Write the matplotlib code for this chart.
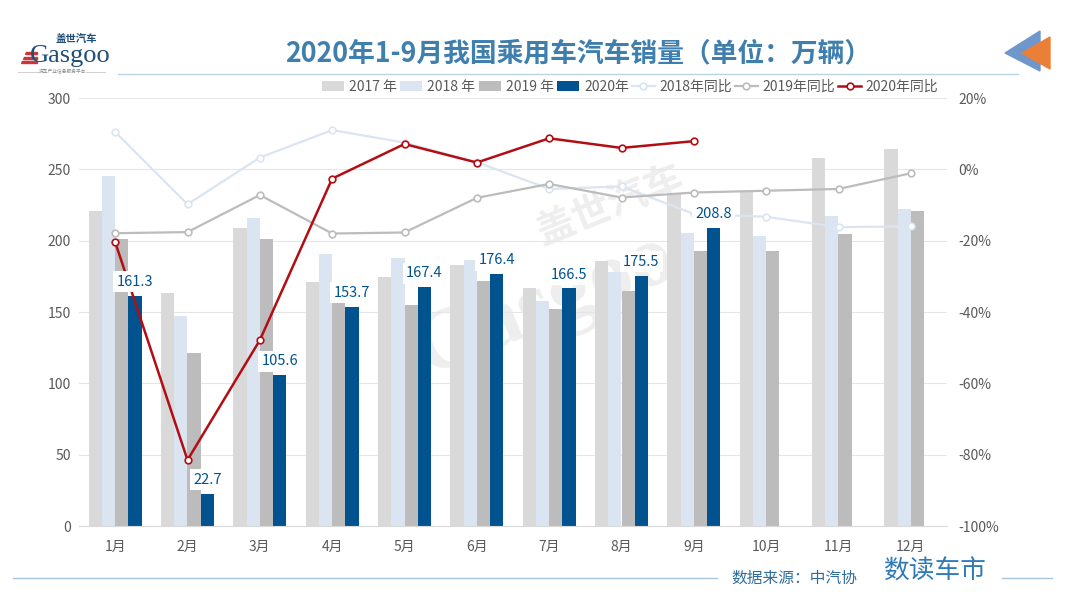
import matplotlib
matplotlib.use("Agg")
import matplotlib.pyplot as plt
import numpy as np
from matplotlib.patches import Polygon

plt.rcParams['font.family'] = ['Noto Sans CJK SC', 'DejaVu Sans']

months = ['1月','2月','3月','4月','5月','6月','7月','8月','9月','10月','11月','12月']
sales_2017 = [221, 163, 209, 171, 174.5, 182.7, 167, 186, 233, 235, 258, 264]
sales_2018 = [245, 147, 216, 190.5, 188, 186.5, 158, 178, 205.5, 203.5, 217, 222]
sales_2019 = [201, 121.5, 201, 156, 155, 171.5, 152, 164.6, 192.5, 192.5, 205, 221]
sales_2020 = [161.3, 22.7, 105.6, 153.7, 167.4, 176.4, 166.5, 175.5, 208.8]
yoy_2018 = [10.5, -9.8, 3.3, 11, 7.5, 2, -5.5, -4.8, -12.5, -13.3, -16.2, -16]
yoy_2019 = [-17.9, -17.6, -7.2, -18, -17.7, -8, -4.1, -7.9, -6.5, -6, -5.5, -1.1]
yoy_2020 = [-20.4, -81.5, -47.9, -2.6, 7.1, 1.9, 8.7, 6, 7.9]

c17, c18, c19, c20 = '#d9d9d9', '#dae5f1', '#bcbcbc', '#00538e'
text_c = '#595959'

fig = plt.figure(figsize=(10.8, 6.08), dpi=100)
ax = fig.add_axes([79/1080, 1-526/608, (947-79)/1080, 428/608])
x = np.arange(12)
w = 0.183

ax.bar(x-1.5*w, sales_2017, w, color=c17, label='2017 年', zorder=2)
ax.bar(x-0.5*w, sales_2018, w, color=c18, label='2018 年', zorder=2)
ax.bar(x+0.5*w, sales_2019, w, color=c19, label='2019 年', zorder=2)
ax.bar(x[:9]+1.5*w, sales_2020, w, color=c20, label='2020年', zorder=2)

ax.set_xlim(-0.5, 11.5)
ax.set_ylim(0, 300)
ax.set_yticks(range(0, 301, 50))
ax.set_xticks(x)
ax.set_xticklabels(months)
ax.grid(axis='y', color='#e6e6e6', lw=0.8, zorder=0)
ax.set_axisbelow(True)
ax.tick_params(axis='x', length=0, labelsize=10, labelcolor=text_c, pad=10)
ax.tick_params(axis='y', length=0, labelsize=10, labelcolor=text_c, pad=6)
for s in ['top', 'left', 'right']:
    ax.spines[s].set_visible(False)
ax.spines['bottom'].set_color('#d9d9d9')

# faint watermark behind the bars
fig.text(545/1080, 1-305/608, 'Gasgoo', ha='center', va='center', fontsize=62, rotation=22, color='#eeeeee',
         family=['Liberation Serif', 'DejaVu Sans'], fontweight='bold', zorder=-1)
fig.text(610/1080, 1-205/608, '盖世汽车', ha='center', va='center', fontsize=28, rotation=22, color='#eeeeee',
         fontweight='bold', zorder=-1)
ax.patch.set_alpha(0)

ax2 = ax.twinx()
ax2.set_ylim(-100, 20)
ax2.set_yticks(range(-100, 21, 20))
ax2.set_yticklabels([f'{v}%' for v in range(-100, 21, 20)])
ax2.tick_params(length=0, labelsize=10, labelcolor=text_c, pad=8)
for s in ax2.spines.values():
    s.set_visible(False)

mk = dict(marker='o', ms=4.8, mfc='white', mew=1.2)
ax2.plot(x, yoy_2018, color=c18, lw=1.6, mec=c18, label='2018年同比', zorder=3, **mk)
ax2.plot(x, yoy_2019, color=c19, lw=1.6, mec=c19, label='2019年同比', zorder=3, **mk)
ax2.plot(x[:9], yoy_2020, color='#b30d14', lw=1.8, mec='#b30d14', label='2020年同比', zorder=5, **mk)

# value labels sit on white boxes above the 2020 bars
for i, v in enumerate(sales_2020):
    ax2.annotate(f'{v}', xy=(x[i]+1.5*w, v/300*120-100), xytext=(0, 5), textcoords='offset points',
                 ha='center', va='bottom', fontsize=10.5, color=c20, zorder=6,
                 bbox=dict(fc='white', ec='none', pad=2.5))

h1, l1 = ax.get_legend_handles_labels()
h2, l2 = ax2.get_legend_handles_labels()
fig.legend(h1+h2, l1+l2, ncol=7, loc='center', bbox_to_anchor=(630/1080, 1-87/608), frameon=False,
           fontsize=10, labelcolor=text_c, columnspacing=0.24, handletextpad=0.35, handlelength=1.6,
           borderpad=0)

# header, footer
fig.text(578/1080, 1-53/608, '2020年1-9月我国乘用车汽车销量（单位：万辆）', ha='center', va='center',
         fontsize=19.3, fontweight='bold', color='#3f7fae')
fig.add_artist(plt.Line2D([118/1080, 1018/1080], [1-74/608]*2, color='#b9d2e4', lw=1))
fig.add_artist(plt.Line2D([13/1080, 717/1080], [1-578/608]*2, color='#a9c3d8', lw=1))
fig.add_artist(plt.Line2D([1002/1080, 1052/1080], [1-578/608]*2, color='#a9c3d8', lw=1))
fig.text(731/1080, 1-578/608, '数据来源：中汽协', ha='left', va='center', fontsize=11.3, color='#2e6d9e')
fig.text(935/1080, 1-572/608, '数读车市', ha='center', va='center', fontsize=18.5, color='#2f7ab8', fontweight='medium')

# logo
fig.text(70/1080, 1-56/608, 'Gasgoo', ha='center', va='center', fontsize=19, color='#1f4e79',
         family=['Liberation Serif', 'DejaVu Sans'])
fig.text(76/1080, 1-39/608, '盖世汽车', ha='center', va='center', fontsize=7.5, color='#1f4e79', fontweight='bold')
for top in [52, 56.5, 61]:
    fig.add_artist(Polygon([[(20+(64-top)*0.5)/1080, 1-top/608], [37/1080, 1-top/608],
                            [37/1080, 1-(top+2)/608], [(19+(64-top)*0.5)/1080, 1-(top+2)/608]],
                           closed=True, color='#c8383c', transform=fig.transFigure))
fig.add_artist(plt.Line2D([18/1080, 42/1080], [1-72/608]*2, color='#c8c8c8', lw=0.6))
fig.add_artist(plt.Line2D([86/1080, 105/1080], [1-72/608]*2, color='#c8c8c8', lw=0.6))
fig.text(63/1080, 1-72/608, '汽车产业信息服务平台', ha='center', va='center', fontsize=3.4, color='#888888')

# corner arrows
fig.add_artist(Polygon([[1005/1080, 1-53/608], [1040/1080, 1-31/608], [1040/1080, 1-71/608]],
                       closed=True, color='#6f97cb', transform=fig.transFigure))
fig.add_artist(Polygon([[1022/1080, 1-53/608], [1050/1080, 1-37/608], [1050/1080, 1-69/608]],
                       closed=True, color='#ec7f36', transform=fig.transFigure))

fig.savefig('out.png', dpi=100)
